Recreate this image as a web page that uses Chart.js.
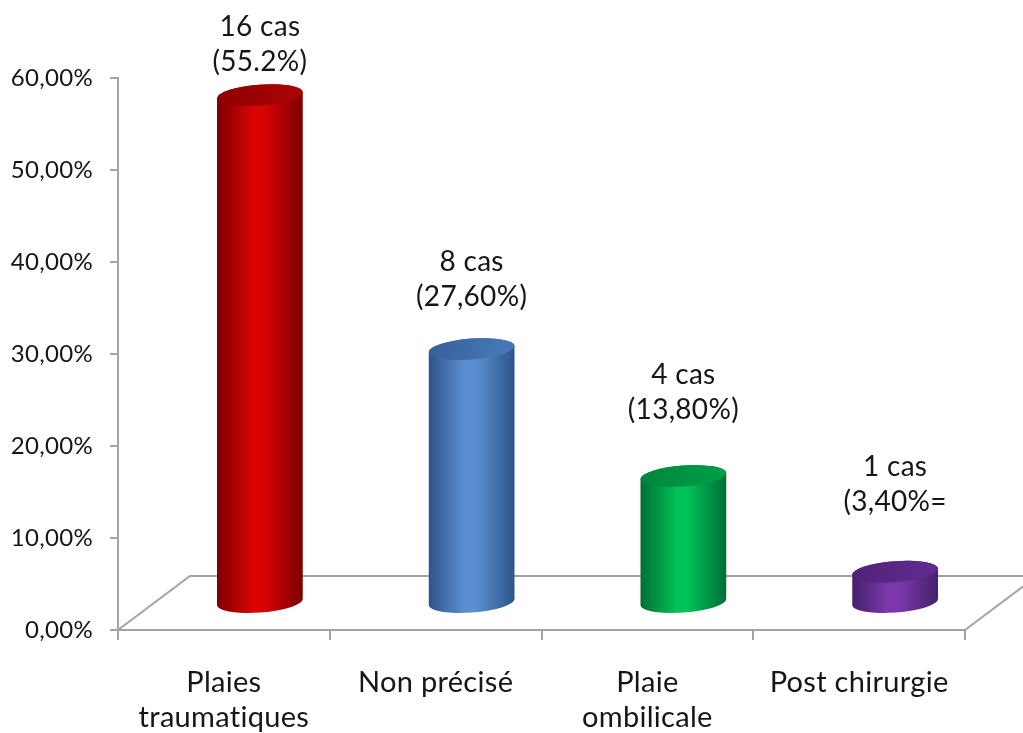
<!DOCTYPE html>
<html lang="fr">
<head>
<meta charset="utf-8">
<title>Répartition des cas</title>
<script src="https://cdn.jsdelivr.net/npm/chart.js@4/dist/chart.umd.min.js"></script>
<style>
  html, body { margin: 0; padding: 0; background: #ffffff; }
  #wrap { width: 1023px; height: 733px; position: relative; }
</style>
</head>
<body>
<div id="wrap"><canvas id="chart" width="1023" height="733"></canvas></div>
<script>
// Categories, values and labels
const categories = [['Plaies', 'traumatiques'], 'Non précisé', ['Plaie', 'ombilicale'], 'Post chirurgie'];
const percentages = [55.2, 27.6, 13.8, 3.4];
const caseCounts = [16, 8, 4, 1];
const percentTexts = ['(55.2%)', '(27,60%)', '(13,80%)', '(3,40%='];
const yTickValues = [0, 10, 20, 30, 40, 50, 60];

// Styling
const FONT = 'Lato, "Open Sans", sans-serif';
const TEXT_COLOR = '#161616';
const AXIS_COLOR = '#a3a3a3';
const DEPTH = { dx: 72, dy: -54 };           // floor depth of the 3D box
const ELLIPSE_RY = 10.5;                        // vertical radius of cylinder caps
const CAP_TILT = -0.075;                        // slight perspective tilt of caps
const LABEL_LIFT = [33, 52, 66, 70];            // gap from cap centre to 2nd label line
const LABEL_LINE = 35;

const palettes = [
  { edge: '#7c0000', mid: '#d80404', capA: '#8c0000', capB: '#a80404' },
  { edge: '#2d5489', mid: '#5b8fd2', capA: '#35609a', capB: '#4676b5' },
  { edge: '#006d36', mid: '#00c257', capA: '#00843b', capB: '#009c47' },
  { edge: '#46206a', mid: '#7c37ad', capA: '#4f2378', capB: '#5f2a8e' }
];

function fmtPct(v) { return v.toFixed(2).replace('.', ',') + '%'; }

// A touch of letter spacing keeps "ti" / "fi" from being joined as ligatures
const textSpacingPlugin = {
  id: 'textSpacing',
  beforeDraw(chart) {
    if ('letterSpacing' in chart.ctx) chart.ctx.letterSpacing = '0.3px';
  }
};

// Floor of the 3D box: side diagonals and back edge
const floorPlugin = {
  id: 'floor3d',
  beforeDatasetsDraw(chart) {
    const { ctx, chartArea } = chart;
    const y0 = chart.scales.y.getPixelForValue(0);
    const l = chartArea.left, r = chartArea.right;
    ctx.save();
    ctx.strokeStyle = AXIS_COLOR;
    ctx.lineWidth = 2;
    ctx.beginPath();
    ctx.moveTo(l, y0);
    ctx.lineTo(l + DEPTH.dx, y0 + DEPTH.dy);
    ctx.lineTo(r + DEPTH.dx, y0 + DEPTH.dy);
    ctx.moveTo(r, y0);
    ctx.lineTo(r + DEPTH.dx, y0 + DEPTH.dy);
    ctx.stroke();
    ctx.restore();
  }
};

// Cylinders drawn from each bar element, set back at half the floor depth
const cylinderPlugin = {
  id: 'cylinders',
  afterDatasetsDraw(chart) {
    const { ctx } = chart;
    const meta = chart.getDatasetMeta(0);
    const ox = DEPTH.dx / 2, oy = DEPTH.dy / 2;
    meta.data.forEach((el, i) => {
      const p = el.getProps(['x', 'y', 'base', 'width'], true);
      const cx = p.x + ox;
      const top = p.y + oy;
      const bot = p.base + oy;
      const w = p.width / 2;
      const pal = palettes[i];
      const sx = w * Math.cos(CAP_TILT), sy = w * Math.sin(CAP_TILT);

      ctx.save();
      // body
      const g = ctx.createLinearGradient(cx - w, 0, cx + w, 0);
      g.addColorStop(0, pal.edge);
      g.addColorStop(0.42, pal.mid);
      g.addColorStop(0.55, pal.mid);
      g.addColorStop(1, pal.edge);
      ctx.fillStyle = g;
      ctx.beginPath();
      ctx.moveTo(cx - sx, top - sy);
      ctx.lineTo(cx - sx, bot - sy);
      ctx.ellipse(cx, bot, w, ELLIPSE_RY, CAP_TILT, Math.PI, 0, true);
      ctx.lineTo(cx + sx, top + sy);
      ctx.ellipse(cx, top, w, ELLIPSE_RY, CAP_TILT, 0, Math.PI, true);
      ctx.closePath();
      ctx.fill();

      // top cap
      const cg = ctx.createLinearGradient(cx - w, top - ELLIPSE_RY, cx + w * 0.6, top + ELLIPSE_RY);
      cg.addColorStop(0, pal.capA);
      cg.addColorStop(1, pal.capB);
      ctx.fillStyle = cg;
      ctx.beginPath();
      ctx.ellipse(cx, top, w, ELLIPSE_RY, CAP_TILT, 0, Math.PI * 2);
      ctx.fill();
      ctx.restore();

      // value label
      ctx.save();
      ctx.fillStyle = TEXT_COLOR;
      ctx.font = '28px ' + FONT;
      ctx.textAlign = 'center';
      ctx.textBaseline = 'middle';
      const y2 = top - LABEL_LIFT[i];
      ctx.fillText(caseCounts[i] + ' cas', cx, y2 - LABEL_LINE);
      ctx.fillText(percentTexts[i], cx, y2);
      ctx.restore();
    });
  }
};

new Chart(document.getElementById('chart'), {
  type: 'bar',
  data: {
    labels: categories,
    datasets: [{
      data: percentages,
      backgroundColor: 'rgba(0,0,0,0)',
      borderWidth: 0,
      barPercentage: 0.5,
      categoryPercentage: 0.812
    }]
  },
  options: {
    responsive: false,
    animation: false,
    events: [],
    layout: { padding: { top: 78, right: 58, left: 0, bottom: 0 } },
    plugins: { legend: { display: false }, tooltip: { enabled: false } },
    scales: {
      x: {
        grid: { display: true, drawOnChartArea: false, drawTicks: true, tickLength: 10, color: AXIS_COLOR, lineWidth: 2, offset: true },
        border: { display: true, color: AXIS_COLOR, width: 2 },
        ticks: { color: TEXT_COLOR, font: { family: FONT, size: 29, lineHeight: 1.22 }, padding: 25, maxRotation: 0, autoSkip: false },
        afterFit(s) { s.height = 103; }
      },
      y: {
        min: 0, max: 60,
        afterBuildTicks(s) { s.ticks = yTickValues.map(v => ({ value: v })); },
        grid: { display: true, drawOnChartArea: false, drawTicks: true, tickLength: 8, color: AXIS_COLOR, lineWidth: 2 },
        border: { display: true, color: AXIS_COLOR, width: 2 },
        ticks: { color: TEXT_COLOR, font: { family: FONT, size: 24 }, padding: 17, callback: v => fmtPct(v) },
        afterFit(s) { s.width = 118; }
      }
    }
  },
  plugins: [textSpacingPlugin, floorPlugin, cylinderPlugin]
});
</script>
</body>
</html>
